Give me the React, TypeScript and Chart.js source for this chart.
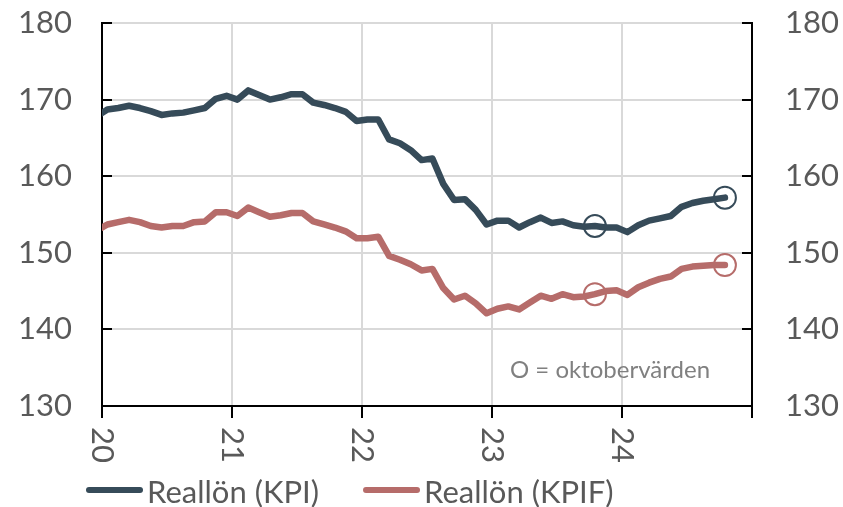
import React, { useEffect, useRef } from 'react';
import { Chart, registerables } from 'chart.js';

Chart.register(...registerables);

// Monthly series, first value = December 2019, last = October 2024
const firstYear = 2019;
const firstMonth = 12;

const kpi = [
  167.8,
  168.7, 168.9, 169.2, 168.9, 168.5, 168.0, 168.2, 168.3, 168.6, 168.9, 170.1, 170.5,
  170.0, 171.2, 170.6, 170.0, 170.3, 170.7, 170.7, 169.6, 169.3, 168.9, 168.4, 167.2,
  167.4, 167.4, 164.8, 164.3, 163.4, 162.1, 162.3, 159.0, 156.9, 157.0, 155.6, 153.7,
  154.2, 154.2, 153.3, 154.0, 154.6, 153.9, 154.1, 153.6, 153.4, 153.5, 153.3, 153.3,
  152.7, 153.6, 154.2, 154.5, 154.8, 156.0, 156.5, 156.8, 157.0, 157.2,
];

const kpif = [
  152.9,
  153.7, 154.0, 154.3, 154.0, 153.5, 153.3, 153.5, 153.5, 154.0, 154.1, 155.3, 155.3,
  154.8, 155.9, 155.3, 154.7, 154.9, 155.2, 155.2, 154.1, 153.7, 153.3, 152.8, 151.9,
  151.9, 152.1, 149.6, 149.1, 148.5, 147.7, 147.9, 145.4, 143.9, 144.4, 143.4, 142.1,
  142.7, 143.0, 142.6, 143.5, 144.4, 144.0, 144.6, 144.2, 144.3, 144.6, 145.0, 145.1,
  144.5, 145.5, 146.1, 146.6, 146.9, 147.9, 148.2, 148.3, 148.4, 148.4,
];

const yearLabels = ['20', '21', '22', '23', '24'];
const octoberMarks = ['2023-10', '2024-10'];
const seriesNames = ['Reallön (KPI)', 'Reallön (KPIF)'];
const noteText = 'O = oktobervärden';

const COLOR_KPI = '#364b59';
const COLOR_KPIF = '#b66c6a';
const TEXT = '#595959';
const GRID = '#d9d9d9';
const FONT = 'Lato';

const months: string[] = kpi.map((_, i) => {
  const m0 = firstMonth - 1 + i;
  const y = firstYear + Math.floor(m0 / 12);
  const m = (m0 % 12) + 1;
  return `${y}-${String(m).padStart(2, '0')}`;
});

// x position in months since Jan 2020, points placed mid-month
const monthPos = (i: number) => {
  const [y, m] = months[i].split('-').map(Number);
  return (y - 2020) * 12 + (m - 1) + 0.5;
};

const yearTickValues = yearLabels.map((_, k) => k * 12).concat([yearLabels.length * 12]);

const extrasPlugin = {
  id: 'extras',
  beforeDatasetsDraw(chart: any) {
    const { ctx, chartArea, scales } = chart;
    ctx.save();
    ctx.strokeStyle = '#000';
    ctx.lineWidth = 2;
    scales.y.ticks.forEach((t: any) => {
      const py = Math.round(scales.y.getPixelForValue(t.value));
      ctx.beginPath();
      ctx.moveTo(chartArea.left, py);
      ctx.lineTo(chartArea.left + 10, py);
      ctx.moveTo(chartArea.right - 10, py);
      ctx.lineTo(chartArea.right, py);
      ctx.stroke();
    });
    ctx.restore();
  },
  afterDraw(chart: any) {
    const { ctx, chartArea, scales } = chart;
    ctx.save();
    // rotated year labels
    ctx.fillStyle = TEXT;
    ctx.font = `31px ${FONT}`;
    ctx.textAlign = 'left';
    ctx.textBaseline = 'middle';
    yearLabels.forEach((lab, k) => {
      const px = scales.x.getPixelForValue(k * 12);
      ctx.save();
      ctx.translate(px, chartArea.bottom + 21);
      ctx.rotate(Math.PI / 2);
      ctx.fillText(lab, 0, 0);
      ctx.restore();
    });
    // note
    ctx.fillStyle = '#808080';
    ctx.font = `24px ${FONT}`;
    ctx.textBaseline = 'middle';
    ctx.fillText(noteText, 510, 370);
    // legend
    ctx.font = `31px ${FONT}`;
    ctx.textBaseline = 'alphabetic';
    const colors = [COLOR_KPI, COLOR_KPIF];
    let x = 86;
    const ly = 490;
    seriesNames.forEach((name, k) => {
      ctx.strokeStyle = colors[k];
      ctx.lineWidth = 6;
      ctx.lineCap = 'round';
      ctx.beginPath();
      ctx.moveTo(x + 3, ly);
      ctx.lineTo(x + 54, ly);
      ctx.stroke();
      ctx.fillStyle = TEXT;
      ctx.fillText(name, x + 61, 503);
      x = x + 61 + ctx.measureText(name).width + 44;
    });
    ctx.restore();
  },
};

export default function App() {
  const ref = useRef<HTMLCanvasElement>(null);
  useEffect(() => {
    let chart: Chart | null = null;
    let cancelled = false;
    const make = () => {
      if (cancelled || !ref.current) return;
      const lineData = (vals: number[]) => vals.map((v, i) => ({ x: monthPos(i), y: v }));
      const markData = (vals: number[]) =>
        octoberMarks.map((m) => {
          const i = months.indexOf(m);
          return { x: monthPos(i), y: vals[i] };
        });
      const tickFont = { family: FONT, size: 31 };
      const lineSet = (label: string, vals: number[], color: string) => ({
        label,
        data: lineData(vals),
        borderColor: color,
        backgroundColor: color,
        borderWidth: 6.5,
        pointRadius: 0,
        tension: 0,
        borderJoinStyle: 'round',
        borderCapStyle: 'round',
        clip: { left: 0, right: false, top: false, bottom: false },
      });
      const markSet = (label: string, vals: number[], color: string) => ({
        label,
        data: markData(vals),
        showLine: false,
        pointRadius: 11,
        pointBorderWidth: 2,
        pointBorderColor: color,
        pointBackgroundColor: 'rgba(0,0,0,0)',
        borderColor: color,
        clip: false,
      });
      const noPad = (s: any) => {
        s.paddingTop = 0;
        s.paddingBottom = 0;
      };
      chart = new Chart(ref.current, {
        type: 'line',
        data: {
          datasets: [
            lineSet(seriesNames[0], kpi, COLOR_KPI),
            lineSet(seriesNames[1], kpif, COLOR_KPIF),
            markSet('okt KPI', kpi, COLOR_KPI),
            markSet('okt KPIF', kpif, COLOR_KPIF),
          ],
        },
        options: {
          animation: false,
          responsive: false,
          devicePixelRatio: 1,
          layout: { padding: { top: 23, left: 0, right: 0, bottom: 0 } },
          plugins: { legend: { display: false }, tooltip: { enabled: false } },
          scales: {
            x: {
              type: 'linear',
              min: 0,
              max: yearLabels.length * 12,
              afterBuildTicks: (s: any) => {
                s.ticks = yearTickValues.map((v) => ({ value: v }));
              },
              grid: {
                color: GRID,
                lineWidth: 2,
                drawTicks: true,
                tickLength: 12,
                tickColor: '#000',
                tickWidth: 2,
              },
              border: { display: true, color: '#000', width: 2 },
              ticks: { display: false },
              afterFit: (s: any) => {
                s.height = 101;
                s.paddingLeft = 0;
                s.paddingRight = 0;
              },
            },
            y: {
              position: 'left',
              min: 130,
              max: 180,
              ticks: { stepSize: 10, font: tickFont, color: TEXT, padding: 30 },
              grid: { color: GRID, lineWidth: 2, drawTicks: false },
              border: { display: true, color: '#000', width: 2 },
              afterFit: (s: any) => {
                s.width = 102;
                noPad(s);
              },
            },
            y2: {
              position: 'right',
              min: 130,
              max: 180,
              ticks: { stepSize: 10, font: tickFont, color: TEXT, padding: 33 },
              grid: { display: false, drawTicks: false },
              border: { display: true, color: '#000', width: 2 },
              afterFit: (s: any) => {
                s.width = 91;
                noPad(s);
              },
            },
          },
        },
        plugins: [extrasPlugin],
      } as any);
    };
    const fonts: any = (document as any).fonts;
    if (fonts && fonts.load) {
      Promise.all([fonts.load(`31px ${FONT}`), fonts.load(`24px ${FONT}`)])
        .catch(() => null)
        .then(make);
    } else {
      make();
    }
    return () => {
      cancelled = true;
      if (chart) chart.destroy();
    };
  }, []);
  return (
    <div style={{ position: 'absolute', left: 0, top: 0, width: 843, height: 507, background: '#fff' }}>
      <canvas ref={ref} width={843} height={507} style={{ display: 'block' }} />
    </div>
  );
}
